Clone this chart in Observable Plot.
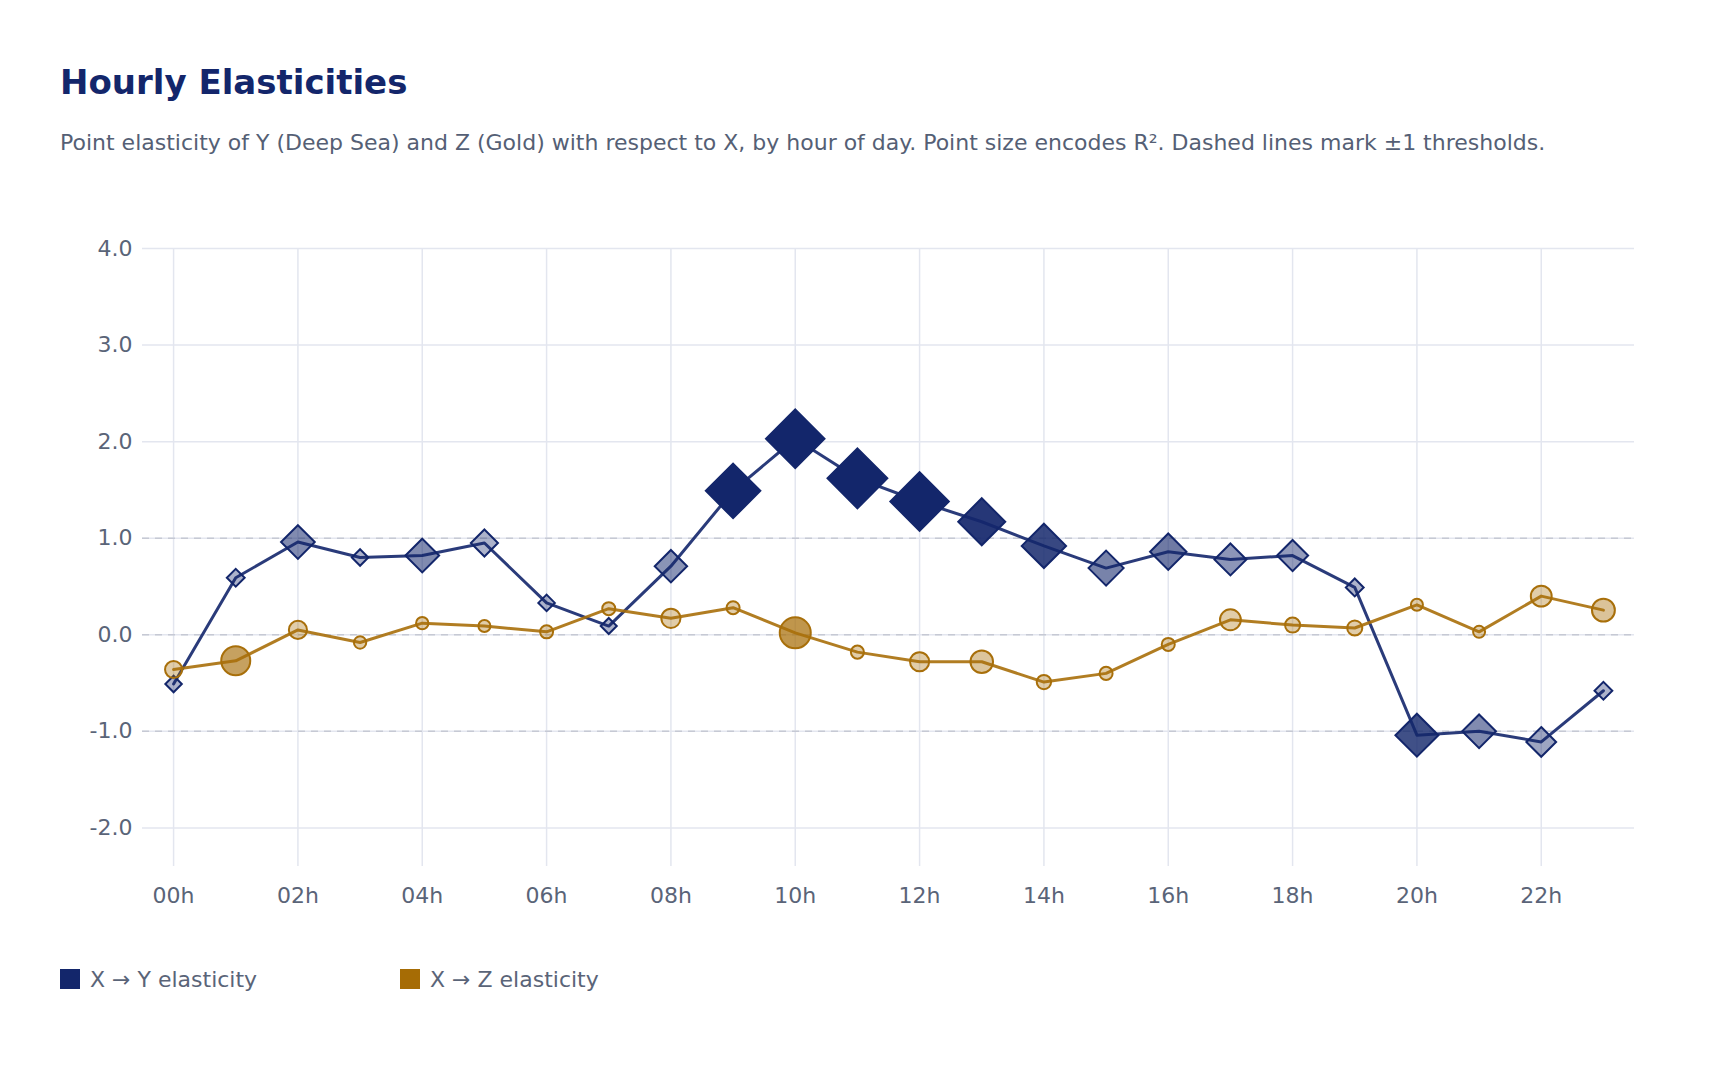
<!DOCTYPE html>
<html>
<head>
<meta charset="utf-8">
<script src="https://cdn.jsdelivr.net/npm/d3@7"></script>
<script src="https://cdn.jsdelivr.net/npm/@observablehq/plot@0.6"></script>
<style>
  body { margin: 0; background: #ffffff; font-family: "DejaVu Sans", sans-serif; }
  #wrap { position: relative; width: 1720px; height: 1075px; overflow: hidden; }
  #title { position: absolute; left: 60px; top: 65px; font-size: 34px; font-weight: bold; color: #13266b; line-height: 1; white-space: nowrap; }
  #subtitle { position: absolute; left: 60px; top: 132px; font-size: 22px; color: #555f75; line-height: 1; white-space: nowrap; }
  #chart { position: absolute; left: 0; top: 200px; }
  #legend { position: absolute; left: 0; top: 968px; height: 22px; width: 1720px; }
  .item { position: absolute; top: 0; display: flex; align-items: center; height: 22px; font-size: 22px; color: #5a6478; white-space: nowrap; }
  .sw { width: 20px; height: 20px; margin-right: 10px; }
</style>
</head>
<body>
<div id="wrap">
  <div id="title">Hourly Elasticities</div>
  <div id="subtitle">Point elasticity of Y (Deep Sea) and Z (Gold) with respect to X, by hour of day. Point size encodes R². Dashed lines mark ±1 thresholds.</div>
  <div id="chart"></div>
  <div id="legend">
    <div class="item" style="left:60px"><div class="sw" style="background:#13266b"></div>X → Y elasticity</div>
    <div class="item" style="left:400px"><div class="sw" style="background:#a66c05"></div>X → Z elasticity</div>
  </div>
</div>
<script>
const hours = [0,1,2,3,4,5,6,7,8,9,10,11,12,13,14,15,16,17,18,19,20,21,22,23];
const yElasticity = [-0.51,0.59,0.96,0.80,0.82,0.95,0.33,0.09,0.71,1.49,2.03,1.62,1.38,1.17,0.92,0.69,0.86,0.78,0.82,0.49,-1.04,-1.00,-1.11,-0.58];
const yR2 = [0.02,0.05,0.41,0.02,0.41,0.26,0.02,0.01,0.38,0.88,0.97,1.00,0.97,0.71,0.65,0.44,0.47,0.37,0.35,0.05,0.62,0.41,0.32,0.05];
const zElasticity = [-0.36,-0.27,0.05,-0.08,0.12,0.09,0.03,0.27,0.17,0.28,0.02,-0.18,-0.28,-0.28,-0.49,-0.40,-0.10,0.155,0.10,0.07,0.31,0.03,0.40,0.255];
const zR2 = [0.15,0.50,0.18,0.01,0.01,0.00,0.03,0.03,0.21,0.03,0.56,0.03,0.21,0.31,0.07,0.03,0.03,0.26,0.09,0.09,0.00,0.00,0.26,0.32];
const xTicks = [0,2,4,6,8,10,12,14,16,18,20,22];
const yTicks = [-2,-1,0,1,2,3,4];
const thresholds = [-1,0,1];

const navy = "#13266b";
const gold = "#a86f0a";

const yRows = hours.map((h, i) => ({hour: h, value: yElasticity[i], r2: yR2[i]}));
const zRows = hours.map((h, i) => ({hour: h, value: zElasticity[i], r2: zR2[i]}));

// fill opacity grows with R² (clamped)
const fade = d3.scaleLinear().domain([0.35 / 1.3, 1 / 1.3]).range([0.35, 1]).clamp(true);

const diamond = {
  draw(ctx, size) {
    const r = Math.sqrt(size / Math.PI) * 1.3;
    ctx.moveTo(0, -r); ctx.lineTo(r, 0); ctx.lineTo(0, r); ctx.lineTo(-r, 0); ctx.closePath();
  }
};

const chart = Plot.plot({
  width: 1720,
  height: 740,
  marginTop: 48,
  marginBottom: 74,
  marginLeft: 142,
  marginRight: 86,
  style: {fontFamily: "DejaVu Sans, sans-serif", background: "#ffffff", overflow: "visible"},
  x: {domain: [-0.5, 23.5]},
  y: {domain: [-2.4, 4]},
  r: {type: "linear", domain: [0, 1], range: [6, 23]},
  marks: [
    Plot.gridY(yTicks, {stroke: "#e3e6ef", strokeOpacity: 1, strokeWidth: 1.5}),
    Plot.gridX(xTicks, {stroke: "#e3e6ef", strokeOpacity: 1, strokeWidth: 1.5}),
    Plot.ruleY(thresholds, {stroke: "#c6c9d4", strokeWidth: 1.5, strokeDasharray: "7,6"}),
    Plot.axisY(yTicks, {tickSize: 0, tickPadding: 10, tickFormat: d => d.toFixed(1), fontSize: 22, fill: "#5a6478", label: null}),
    Plot.axisX(xTicks, {tickSize: 0, tickPadding: 21, tickFormat: d => String(d).padStart(2, "0") + "h", fontSize: 22, fill: "#5a6478", label: null}),
    Plot.line(yRows, {x: "hour", y: "value", stroke: navy, strokeOpacity: 0.9, strokeWidth: 3}),
    Plot.dot(yRows, {x: "hour", y: "value", r: "r2", symbol: diamond, fill: navy, fillOpacity: d => fade(d.r2), stroke: navy, strokeWidth: 2}),
    Plot.line(zRows, {x: "hour", y: "value", stroke: gold, strokeOpacity: 0.9, strokeWidth: 3}),
    Plot.dot(zRows, {x: "hour", y: "value", r: "r2", fill: gold, fillOpacity: d => fade(d.r2), stroke: gold, strokeWidth: 2})
  ]
});
document.getElementById("chart").appendChild(chart);
</script>
</body>
</html>
